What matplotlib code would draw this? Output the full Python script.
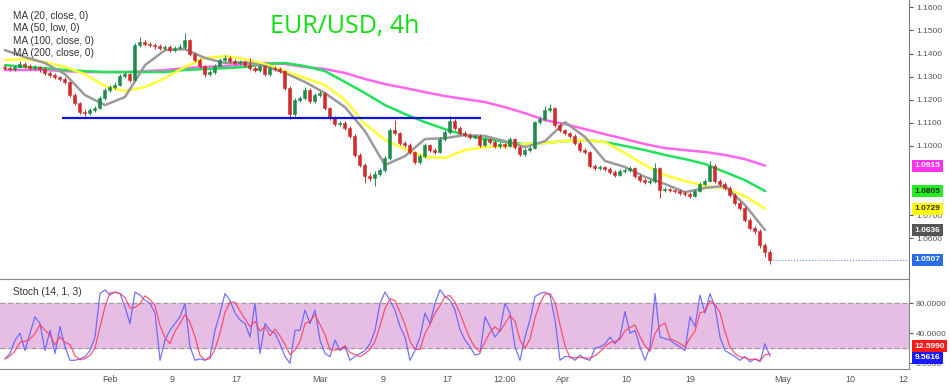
import numpy as np
import pandas as pd
import matplotlib
matplotlib.use("Agg")
import matplotlib.pyplot as plt
import matplotlib.transforms as mtransforms

plt.rcParams['font.family'] = ['Liberation Sans', 'DejaVu Sans']

# ---- data (EUR/USD 4h, one candle per ~2 bars) ----
closes = [1.1337, 1.1333, 1.1342, 1.1355, 1.1346, 1.1337, 1.1342, 1.1333, 1.1316, 1.1307,
          1.1298, 1.1290, 1.1277, 1.1220, 1.1186, 1.1147, 1.1142, 1.1155, 1.1164, 1.1207,
          1.1242, 1.1255, 1.1264, 1.1303, 1.1311, 1.1285, 1.1437, 1.1450, 1.1441, 1.1437,
          1.1432, 1.1424, 1.1428, 1.1415, 1.1424, 1.1428, 1.1458, 1.1398, 1.1372, 1.1346,
          1.1311, 1.1320, 1.1346, 1.1372, 1.1381, 1.1368, 1.1359, 1.1363, 1.1350, 1.1337,
          1.1329, 1.1346, 1.1311, 1.1337, 1.1333, 1.1324, 1.1251, 1.1138, 1.1199, 1.1207,
          1.1242, 1.1194, 1.1220, 1.1229, 1.1164, 1.1121, 1.1095, 1.1099, 1.1077, 1.1043,
          1.0961, 1.0917, 1.0870, 1.0861, 1.0878, 1.0896, 1.0948, 1.1069, 1.1056, 1.1013,
          1.1004, 1.0974, 1.0930, 1.0956, 1.1004, 1.0982, 1.0974, 1.1030, 1.1060, 1.1108,
          1.1077, 1.1056, 1.1047, 1.1039, 1.1043, 1.1004, 1.1030, 1.1017, 1.1000, 1.1008,
          1.1000, 1.1030, 1.0995, 1.0965, 1.0982, 1.0991, 1.1103, 1.1116, 1.1155, 1.1164,
          1.1090, 1.1069, 1.1056, 1.1043, 1.1013, 1.0982, 1.0974, 1.0913, 1.0904, 1.0909,
          1.0900, 1.0887, 1.0874, 1.0891, 1.0896, 1.0904, 1.0870, 1.0852, 1.0844, 1.0848,
          1.0904, 1.0809, 1.0813, 1.0809, 1.0805, 1.0796, 1.0792, 1.0783, 1.0805, 1.0835,
          1.0848, 1.0913, 1.0848, 1.0835, 1.0818, 1.0787, 1.0753, 1.0731, 1.0679, 1.0645,
          1.0632, 1.0571, 1.0541, 1.0507]

highs = [1.1350, 1.1345, 1.1351, 1.1366, 1.1362, 1.1353, 1.1350, 1.1348, 1.1340, 1.1324,
         1.1315, 1.1305, 1.1298, 1.1282, 1.1228, 1.1192, 1.1158, 1.1166, 1.1175, 1.1215,
         1.1250, 1.1265, 1.1275, 1.1312, 1.1322, 1.1318, 1.1445, 1.1470, 1.1460, 1.1452,
         1.1447, 1.1440, 1.1438, 1.1436, 1.1434, 1.1440, 1.1490, 1.1465, 1.1405, 1.1380,
         1.1352, 1.1330, 1.1355, 1.1382, 1.1392, 1.1390, 1.1375, 1.1372, 1.1370, 1.1380,
         1.1345, 1.1356, 1.1352, 1.1346, 1.1345, 1.1340, 1.1330, 1.1258, 1.1208, 1.1218,
         1.1255, 1.1250, 1.1230, 1.1240, 1.1235, 1.1170, 1.1130, 1.1110, 1.1106, 1.1085,
         1.1050, 1.0968, 1.0925, 1.0885, 1.0890, 1.0905, 1.0958, 1.1078, 1.1112, 1.1062,
         1.1020, 1.1012, 1.0980, 1.0965, 1.1012, 1.1010, 1.0990, 1.1038, 1.1068, 1.1130,
         1.1115, 1.1085, 1.1065, 1.1055, 1.1052, 1.1050, 1.1038, 1.1036, 1.1025, 1.1018,
         1.1015, 1.1038, 1.1036, 1.1002, 1.0990, 1.1000, 1.1110, 1.1128, 1.1175, 1.1180,
         1.1170, 1.1098, 1.1075, 1.1062, 1.1050, 1.1020, 1.0990, 1.0980, 1.0920, 1.0918,
         1.0915, 1.0908, 1.0895, 1.0900, 1.0905, 1.0914, 1.0910, 1.0878, 1.0860, 1.0858,
         1.0925, 1.0910, 1.0822, 1.0820, 1.0815, 1.0812, 1.0805, 1.0800, 1.0812, 1.0842,
         1.0858, 1.0935, 1.0920, 1.0856, 1.0842, 1.0825, 1.0795, 1.0760, 1.0738, 1.0686,
         1.0652, 1.0640, 1.0578, 1.0550]

lows = [1.1328, 1.1325, 1.1326, 1.1336, 1.1338, 1.1329, 1.1330, 1.1322, 1.1308, 1.1298,
        1.1290, 1.1280, 1.1268, 1.1212, 1.1178, 1.1138, 1.1130, 1.1135, 1.1148, 1.1158,
        1.1200, 1.1235, 1.1246, 1.1258, 1.1295, 1.1278, 1.1280, 1.1428, 1.1432, 1.1428,
        1.1422, 1.1415, 1.1416, 1.1406, 1.1408, 1.1418, 1.1420, 1.1390, 1.1362, 1.1336,
        1.1300, 1.1302, 1.1312, 1.1340, 1.1365, 1.1360, 1.1350, 1.1350, 1.1342, 1.1328,
        1.1320, 1.1322, 1.1302, 1.1305, 1.1324, 1.1315, 1.1242, 1.1115, 1.1130, 1.1190,
        1.1200, 1.1185, 1.1188, 1.1212, 1.1155, 1.1112, 1.1085, 1.1088, 1.1068, 1.1035,
        1.0952, 1.0908, 1.0840, 1.0850, 1.0828, 1.0868, 1.0888, 1.0940, 1.1048, 1.1004,
        1.0995, 1.0965, 1.0920, 1.0922, 1.0948, 1.0972, 1.0965, 1.0968, 1.1022, 1.1052,
        1.1068, 1.1048, 1.1038, 1.1030, 1.1030, 1.0995, 1.0998, 1.1008, 1.0990, 1.0992,
        1.0990, 1.0994, 1.0986, 1.0955, 1.0958, 1.0975, 1.0985, 1.1095, 1.1108, 1.1148,
        1.1082, 1.1060, 1.1048, 1.1035, 1.1005, 1.0974, 1.0965, 1.0905, 1.0895, 1.0896,
        1.0892, 1.0878, 1.0866, 1.0868, 1.0884, 1.0888, 1.0862, 1.0844, 1.0835, 1.0836,
        1.0840, 1.0775, 1.0800, 1.0800, 1.0796, 1.0788, 1.0784, 1.0775, 1.0778, 1.0800,
        1.0828, 1.0842, 1.0840, 1.0826, 1.0810, 1.0778, 1.0745, 1.0722, 1.0670, 1.0636,
        1.0620, 1.0560, 1.0520, 1.0490]

first_open = 1.1340

# moving averages, sampled every 4 candles
ma_idx = list(range(0, 153, 4))
ma20 = [1.1415, 1.1385, 1.1359, 1.1311, 1.1220, 1.1177, 1.1212, 1.1350, 1.1415, 1.1419,
        1.1381, 1.1359, 1.1363, 1.1346, 1.1316, 1.1277, 1.1229, 1.1168, 1.1064, 1.0917,
        1.0956, 1.1030, 1.1034, 1.1047, 1.1043, 1.1021, 1.0995, 1.1021, 1.1103, 1.1039,
        1.0935, 1.0909, 1.0866, 1.0835, 1.0800, 1.0818, 1.0827, 1.0744, 1.0636]
ma50 = [1.1372, 1.1376, 1.1363, 1.1342, 1.1311, 1.1259, 1.1238, 1.1255, 1.1294, 1.1342,
        1.1381, 1.1389, 1.1376, 1.1355, 1.1324, 1.1294, 1.1264, 1.1199, 1.1095, 1.1026,
        1.0987, 1.0952, 1.0948, 1.0982, 1.0995, 1.1000, 1.1008, 1.1013, 1.1021, 1.1026,
        1.1017, 1.0969, 1.0917, 1.0874, 1.0848, 1.0827, 1.0818, 1.0783, 1.0729]
ma100 = [1.1350, 1.1342, 1.1337, 1.1329, 1.1324, 1.1320, 1.1320, 1.1320, 1.1320, 1.1329,
         1.1333, 1.1337, 1.1342, 1.1355, 1.1359, 1.1346, 1.1324, 1.1277, 1.1229, 1.1177,
         1.1138, 1.1103, 1.1073, 1.1047, 1.1030, 1.1017, 1.1008, 1.1013, 1.1021, 1.1026,
         1.1017, 1.1000, 1.0982, 1.0961, 1.0943, 1.0922, 1.0887, 1.0852, 1.0805]
ma200 = [1.1329, 1.1329, 1.1329, 1.1324, 1.1320, 1.1320, 1.1320, 1.1324, 1.1329, 1.1337,
         1.1342, 1.1346, 1.1355, 1.1359, 1.1355, 1.1342, 1.1333, 1.1316, 1.1290, 1.1268,
         1.1251, 1.1233, 1.1216, 1.1203, 1.1190, 1.1168, 1.1142, 1.1112, 1.1095, 1.1073,
         1.1051, 1.1030, 1.1008, 1.0991, 1.0982, 1.0974, 1.0961, 1.0943, 1.0915]

ma_names = ["MA (20, close, 0)", "MA (50, low, 0)", "MA (100, close, 0)", "MA (200, close, 0)"]

support_level = 1.1121
support_from, support_to = 11.4, 95.2

# stochastic %K per candle
stoch_k = [6, 13, 31, 40, 17, 40, 62, 53, 17, 44,
           13, 49, 22, 4, 4, 6, 9, 17, 35, 93,
           98, 91, 95, 93, 75, 53, 95, 91, 84, 80,
           67, 4, 31, 44, 53, 62, 80, 22, 4, 6,
           4, 9, 44, 67, 93, 84, 67, 58, 53, 35,
           80, 13, 53, 44, 40, 26, 9, 0, 44, 44,
           71, 53, 71, 31, 13, 9, 31, 17, 22, 4,
           9, 13, 17, 26, 44, 80, 95, 84, 71, 49,
           35, 4, 17, 35, 67, 53, 80, 98, 89, 84,
           71, 45, 31, 22, 11, 13, 62, 49, 35, 44,
           80, 67, 22, 4, 35, 58, 89, 93, 95, 91,
           58, 4, 9, 9, 4, 11, 6, 4, 20, 22,
           26, 35, 26, 35, 69, 40, 44, 22, 4, 22,
           93, 35, 33, 31, 26, 22, 17, 62, 49, 91,
           67, 93, 75, 35, 17, 13, 9, 4, 9, 2,
           6, 2.2354, 26, 9.5616]

# price-scale ticks that are not hidden behind the value boxes
price_ticks = [1.06, 1.07, 1.10, 1.11, 1.12, 1.13, 1.14, 1.15, 1.16]
stoch_ticks = [0, 40, 80]

tick_pos = [21, 33.4, 46.2, 63, 75.6, 88.4, 100, 111.6, 124.2, 137, 155.6, 169, 179.6]
tick_lab = ["Feb", "9", "17", "Mar", "9", "17", "12:00", "Apr", "10", "19", "May", "10", "12"]

# ---- figure ----
W, H = 950, 386
fig = plt.figure(figsize=(W / 100, H / 100), dpi=100)
ax = fig.add_axes([0, 1 - 279 / H, 909 / W, 279 / H])
axs = fig.add_axes([0, 1 - 369 / H, 909 / W, 90 / H], sharex=ax)

n = len(closes)
x = np.arange(n)
c = np.array(closes)
o = np.array([first_open] + closes[:-1])
up = c >= o
col = np.where(up, '#1f8a4c', '#d02a2a')

ax.vlines(x, lows, highs, colors=col, lw=0.7, zorder=3)
ax.bar(x, np.abs(c - o), bottom=np.minimum(o, c), width=0.6, color=col,
       edgecolor=col, lw=0.4, zorder=4)

ma_cols = ['#9a9a9a', '#ffff33', '#22e05a', '#ff66ee']
for vals, cl, z in zip([ma200, ma100, ma50, ma20], ma_cols[::-1], [2, 2.1, 2.2, 2.3]):
    ax.plot(ma_idx, vals, color=cl, lw=1.8, zorder=z, solid_capstyle='round',
            solid_joinstyle='round')

ax.hlines(support_level, support_from, support_to, color='#1010e0', lw=1.6, zorder=5)
ax.hlines(closes[-1], n - 1, 181, color='#6a8ff0', lw=0.8, linestyles=':', zorder=2)

ax.set_xlim(-1, 180.8)
ax.set_ylim(1.0424, 1.1632)
ax.set_yticks(price_ticks)
ax.yaxis.set_major_formatter(plt.FuncFormatter(lambda v, p: f"{v:.4f}"))
ax.yaxis.tick_right()
ax.tick_params(axis='y', labelsize=6, colors='#555555', length=3, pad=2)
ax.tick_params(axis='x', bottom=False, labelbottom=False)
for s in ['left', 'top']:
    ax.spines[s].set_visible(False)
ax.spines['right'].set_color('#777777')
ax.spines['bottom'].set_color('#888888')

# value boxes on the price scale
tr = mtransforms.blended_transform_factory(ax.transAxes, ax.transData)
box_items = [(ma200[-1], '#ff33ee', 'white'), (ma100[-1], '#22ee22', '#222222'),
             (ma50[-1], '#ffff00', '#333333'), (ma20[-1], '#555555', 'white'),
             (closes[-1], '#2a6de8', 'white')]
for val, bg, fg in box_items:
    ax.text(1.006, val, f"{val:.4f}", transform=tr, ha='left', va='center', fontsize=6,
            color=fg, fontweight='bold', clip_on=False, zorder=20,
            bbox=dict(boxstyle='square,pad=0.3', fc=bg, ec='none'))

fig.text(345 / W, 1 - 26 / H, "EUR/USD, 4h", color='#0ee00e', fontsize=18,
         family=['Open Sans', 'DejaVu Sans'], ha='center', va='center')
for k, name in enumerate(ma_names):
    fig.text(13 / W, 1 - (16 + 12.4 * k) / H, name, fontsize=7.2, color='#333333',
             va='center', ha='left')

# ---- stochastic ----
d = pd.Series(stoch_k).rolling(3, min_periods=1).mean().values
axs.axhspan(20, 80, color='#e6bde3', zorder=0)
axs.axhline(80, color='#999999', lw=0.8, ls=(0, (4, 3)), zorder=1)
axs.axhline(20, color='#999999', lw=0.8, ls=(0, (4, 3)), zorder=1)
axs.plot(x, stoch_k, color='#5c5cff', lw=0.9, alpha=0.85, zorder=3)
axs.plot(x, d, color='#ff3b5f', lw=0.9, alpha=0.85, zorder=4)
axs.set_ylim(-7.6, 112.4)
axs.set_yticks(stoch_ticks)
axs.yaxis.set_major_formatter(plt.FuncFormatter(lambda v, p: f"{v:.4f}"))
axs.yaxis.tick_right()
axs.tick_params(axis='y', labelsize=6, colors='#555555', length=3, pad=2)
axs.set_xticks(tick_pos)
axs.set_xticklabels(tick_lab)
axs.tick_params(axis='x', labelsize=6.5, colors='#555555', length=0, pad=4)
axs.spines['left'].set_visible(False)
for s in ['right', 'top', 'bottom']:
    axs.spines[s].set_color('#888888')

trs = mtransforms.blended_transform_factory(axs.transAxes, axs.transData)
for val, ypos, bg in [(d[-1], 23.0, '#ff1a1a'), (stoch_k[-1], 7.5, '#1a1aff')]:
    axs.text(1.006, ypos, f"{val:.4f}", transform=trs, ha='left', va='center', fontsize=6,
             color='white', fontweight='bold', clip_on=False, zorder=20,
             bbox=dict(boxstyle='square,pad=0.3', fc=bg, ec='none'))
fig.text(13 / W, 1 - 292 / H, "Stoch (14, 1, 3)", fontsize=7.2, color='#333333',
         va='center', ha='left')

fig.savefig("out.png", dpi=100)
